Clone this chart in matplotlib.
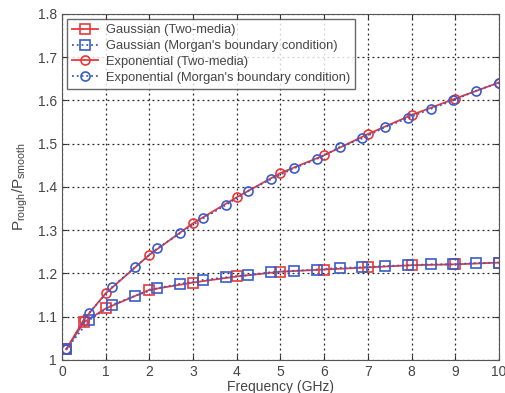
import numpy as np
import matplotlib
matplotlib.use("Agg")
import matplotlib.pyplot as plt

plt.rcParams['font.family'] = ['Liberation Sans', 'DejaVu Sans']
plt.rcParams['mathtext.fontset'] = 'custom'
plt.rcParams['mathtext.rm'] = 'Liberation Sans'
plt.rcParams['mathtext.it'] = 'Liberation Sans'

# Two-media model frequencies (GHz)
freq_two = [0.1, 0.5, 1, 2, 3, 4, 5, 6, 7, 8, 9, 10]
gauss_two = [1.025, 1.087, 1.119, 1.162, 1.179, 1.193, 1.204, 1.209, 1.214, 1.219, 1.221, 1.225]
expo_two = [1.025, 1.093, 1.154, 1.243, 1.316, 1.376, 1.432, 1.473, 1.522, 1.566, 1.604, 1.641]

# Morgan's boundary condition frequencies (GHz)
freq_morgan = [0.1, 0.621, 1.142, 1.663, 2.184, 2.705, 3.226, 3.747, 4.268, 4.789,
               5.311, 5.832, 6.353, 6.874, 7.395, 7.916, 8.437, 8.958, 9.479, 10.0]
gauss_morgan = [1.025, 1.092, 1.127, 1.148, 1.166, 1.176, 1.185, 1.191, 1.196, 1.203,
                1.206, 1.209, 1.213, 1.214, 1.217, 1.219, 1.221, 1.221, 1.224, 1.225]
expo_morgan = [1.025, 1.109, 1.168, 1.214, 1.258, 1.293, 1.327, 1.358, 1.391, 1.418,
               1.443, 1.464, 1.492, 1.512, 1.538, 1.559, 1.580, 1.600, 1.622, 1.641]

red = '#e8383a'
blue = '#3a5cc8'

fig = plt.figure(figsize=(5.06, 3.93), dpi=100)
ax = fig.add_axes([0.1225, 0.084, 0.8635, 0.881])

ax.plot(freq_two, gauss_two, '-', color=red, lw=1.3, marker='s', ms=6.5, mfc='none',
        mec=red, mew=1.2, label='Gaussian (Two-media)')
ax.plot(freq_morgan, gauss_morgan, ':', color=blue, lw=1.3, marker='s', ms=6.5, mfc='none',
        mec=blue, mew=1.2, label="Gaussian (Morgan's boundary condition)")
ax.plot(freq_two, expo_two, '-', color=red, lw=1.3, marker='o', ms=6.5, mfc='none',
        mec=red, mew=1.2, label='Exponential (Two-media)')
ax.plot(freq_morgan, expo_morgan, ':', color=blue, lw=1.3, marker='o', ms=6.5, mfc='none',
        mec=blue, mew=1.2, label="Exponential (Morgan's boundary condition)")

ax.set_xlim(0, 10)
ax.set_ylim(1, 1.8)
ax.set_xticks(range(0, 11))
ax.set_yticks([1, 1.1, 1.2, 1.3, 1.4, 1.5, 1.6, 1.7, 1.8])
ax.set_yticklabels(['1', '1.1', '1.2', '1.3', '1.4', '1.5', '1.6', '1.7', '1.8'])
ax.grid(True, linestyle=(0, (1.5, 2.5)), color='#222222', lw=0.9)
ax.tick_params(direction='in', top=True, right=True, labelsize=10, colors='#333333',
               labelcolor='#444444')
for s in ax.spines.values():
    s.set_color('#555555')
    s.set_linewidth(0.8)

ax.set_xlabel('Frequency (GHz)', fontsize=10, color='#444444', labelpad=1)
ax.set_ylabel(r'$\mathrm{P_{rough}/P_{smooth}}$', fontsize=11, color='#444444', labelpad=6)

leg = ax.legend(loc='upper left', fontsize=9.3, frameon=True, fancybox=False,
                edgecolor='#444444', handlelength=2.0, borderpad=0.4, labelspacing=0.3,
                handletextpad=0.6, borderaxespad=0.4)
leg.get_frame().set_linewidth(1.0)
for t in leg.get_texts():
    t.set_color('#444444')

fig.savefig('out.png', dpi=100)
